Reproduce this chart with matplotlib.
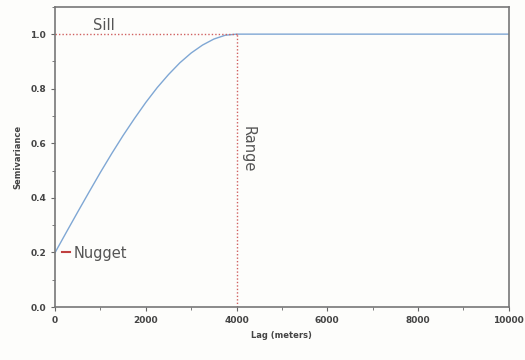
import matplotlib
matplotlib.use('Agg')
import matplotlib.pyplot as plt
from matplotlib.ticker import MultipleLocator

# semivariogram (spherical-looking, nugget 0.2, sill 1.0, range 4000)
lag = [0, 250, 500, 750, 1000, 1250, 1500, 1750, 2000, 2250, 2500, 2750,
       3000, 3250, 3500, 3750, 4000, 10000]
semivar = [0.20, 0.275, 0.349, 0.422, 0.494, 0.563, 0.629, 0.691, 0.750, 0.804,
           0.852, 0.895, 0.931, 0.960, 0.982, 0.996, 1.0, 1.0]

nugget = 0.2
sill = 1.0
rng = 4000

fig = plt.figure(figsize=(5.25, 3.6), dpi=100)
fig.patch.set_facecolor('#fdfdfb')
ax = fig.add_axes([0.105, 0.147, 0.864, 0.834])
ax.set_facecolor('#fdfdfb')

ax.plot(lag, semivar, color='#7fa7d4', lw=1.0)
ax.plot([0, rng], [sill, sill], color='#d06060', lw=1.0, ls=(0, (1, 1.5)))
ax.plot([rng, rng], [0, sill], color='#d06060', lw=1.0, ls=(0, (1, 1.5)))
ax.plot([150, 330], [nugget, nugget], color='#c04040', lw=1.5)

ax.text(840, 1.005, 'Sill', fontsize=10.5, color='#555555', va='bottom')
ax.text(4100, 0.58, 'Range', fontsize=10.5, color='#555555', rotation=-90, va='center')
ax.text(400, nugget - 0.005, 'Nugget', fontsize=10.5, color='#555555', va='center')

ax.set_xlim(0, 10000)
ax.set_ylim(0, 1.1)
ax.xaxis.set_major_locator(MultipleLocator(2000))
ax.xaxis.set_minor_locator(MultipleLocator(1000))
ax.yaxis.set_minor_locator(MultipleLocator(0.1))
ax.set_yticks([0.0, 0.2, 0.4, 0.6, 0.8, 1.0])
ax.set_yticklabels(['0.0', '0.2', '0.4', '0.6', '0.8', '1.0'])
ax.tick_params(which='both', direction='out', color='#666666', labelsize=6.5,
               labelcolor='#444444')
ax.tick_params(which='major', length=3)
ax.tick_params(which='minor', length=2)
for lbl in ax.get_xticklabels() + ax.get_yticklabels():
    lbl.set_fontweight('bold')
for sp in ax.spines.values():
    sp.set_color('#777777')
    sp.set_linewidth(1.2)

ax.set_xlabel('Lag (meters)', fontsize=6, fontweight='bold', color='#444444', labelpad=4)
ax.set_ylabel('Semivariance', fontsize=6, fontweight='bold', color='#444444', labelpad=6)

fig.savefig('out.png', dpi=100)
